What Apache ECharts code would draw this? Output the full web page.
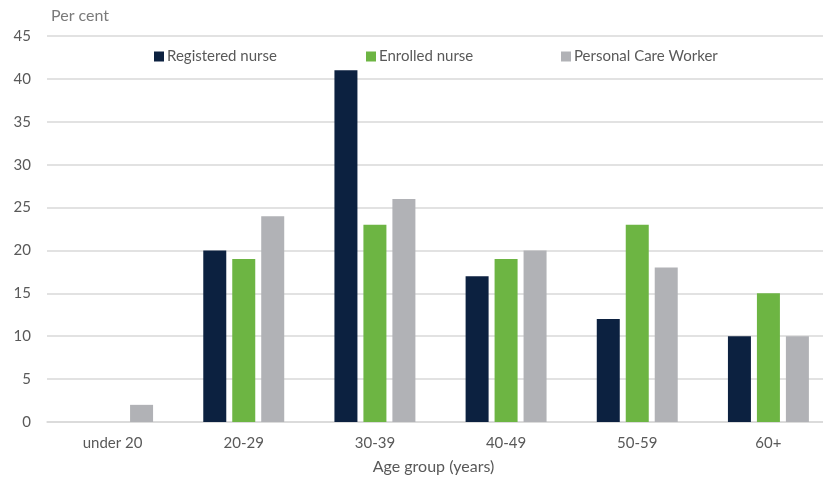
<!DOCTYPE html>
<html><head><meta charset="utf-8">
<script src="https://cdn.jsdelivr.net/npm/echarts@6/dist/echarts.min.js"></script>
<style>html,body{margin:0;padding:0;background:#fff}#c{width:823px;height:479px}</style>
</head><body><div id="c"></div>
<script>
const categories = ['under 20','20-29','30-39','40-49','50-59','60+'];
const registeredNurse = [0,20,41,17,12,10];
const enrolledNurse = [0,19,23,19,23,15];
const personalCareWorker = [2,24,26,20,18,10];
const seriesNames = ['Registered nurse','Enrolled nurse','Personal Care Worker'];
const colors = ['#0C2140','#6DB543','#B1B2B6'];
const font = 'Lato, "Open Sans", sans-serif';
const txt = '#595959';
const chart = echarts.init(document.getElementById('c'));
const legendLeft = [149,361,556];
chart.setOption({
  animation:false,
  textStyle:{fontFamily:font},
  legend: seriesNames.map((n,i)=>({
    data:[n], left:legendLeft[i], top:44, itemWidth:10, itemHeight:10, itemGap:5,
    icon:'rect', textStyle:{color:txt,fontSize:15,fontFamily:font,padding:[0,0,0,-2]}
  })),
  grid:{left:47,right:-11,top:36,bottom:57,containLabel:false,outerBoundsMode:'none'},
  xAxis:{type:'category',data:categories,
    name:'Age group (years)',nameLocation:'middle',nameGap:37,
    nameTextStyle:{color:txt,fontSize:16,fontFamily:font,padding:[0,14,0,0]},
    axisLine:{lineStyle:{color:'#d9d9d9',width:1.5}},axisTick:{show:false},
    axisLabel:{color:txt,fontSize:15,margin:14,fontFamily:font}},
  yAxis:{type:'value',min:0,max:45,interval:5,
    name:'Per cent',nameLocation:'end',nameGap:12,
    nameTextStyle:{color:'#7a7a7a',fontSize:16,align:'left',padding:[0,0,0,4],fontFamily:font},
    axisLine:{show:false},axisTick:{show:false},
    axisLabel:{color:txt,fontSize:15,margin:16,fontFamily:font},
    splitLine:{lineStyle:{color:'#d9d9d9',width:1.5}}},
  series:[
    {name:seriesNames[0],type:'bar',data:registeredNurse,itemStyle:{color:colors[0]},barWidth:23,barGap:'26%'},
    {name:seriesNames[1],type:'bar',data:enrolledNurse,itemStyle:{color:colors[1]},barWidth:23,barGap:'26%'},
    {name:seriesNames[2],type:'bar',data:personalCareWorker,itemStyle:{color:colors[2]},barWidth:23,barGap:'26%'}
  ]
});
</script></body></html>
